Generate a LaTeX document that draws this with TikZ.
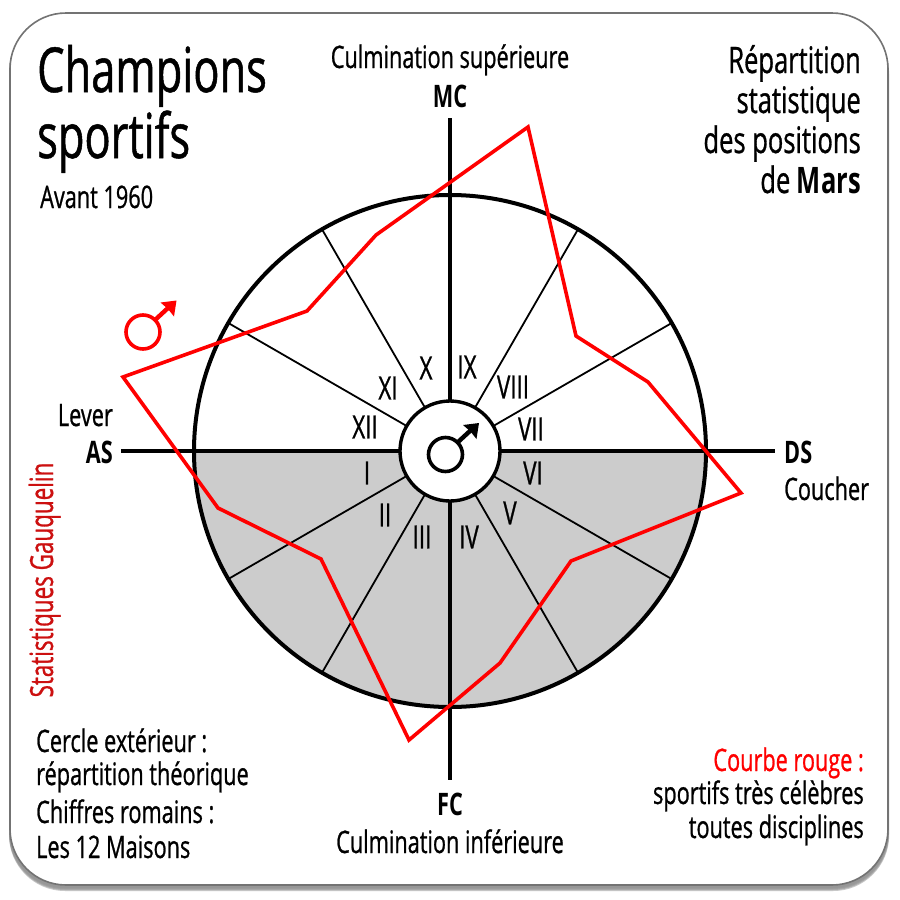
\documentclass[tikz,border=0pt]{standalone}
\usepackage{fontspec}
\setmainfont[FakeStretch=0.70,UprightFeatures={FakeBold=0.8}]{Open Sans}
\usetikzlibrary{arrows.meta,positioning,calc}
\definecolor{marsred}{HTML}{FF0000}
\definecolor{statred}{HTML}{CC1010}
\definecolor{halfgray}{HTML}{CCCCCC}
\tikzset{
    txt/.style={inner sep=0pt,anchor=base west,font=\fontsize{31}{31}\selectfont},
    txtr/.style={txt,anchor=base east},
    txtc/.style={txt,anchor=base},
    head/.style={font=\fontsize{62}{62}\selectfont},
    big/.style={font=\fontsize{36.5}{36.5}\selectfont},
    axisname/.style={font=\fontsize{31}{31}\selectfont\bfseries},
    house/.style={inner sep=0pt,font=\fontsize{32}{32}\selectfont},
    spoke/.style={line width=1.8pt},
    axisline/.style={line width=3.4pt},
    curve/.style={draw=marsred,line width=3.6pt,miter limit=10},
    marssign/.pic={
        \draw[line width=3.6pt,pic actions] (0,0) circle[radius=17pt];
        \draw[line width=4.4pt,pic actions] (12,-12) -- (25,-24);
        \fill[pic actions] (33.5,-31.5) -- (17.5,-29.5) -- (25,-23) -- (31,-15.5) -- cycle;
    }
}
\begin{document}
\begin{tikzpicture}[x=1pt,y=-1pt]
    \fill[white] (0,0) rectangle (900,900);
    \useasboundingbox (0,0) rectangle (900,900);

    % card and its shadow
    \foreach \off/\shade in {6/70,5/60,4/50,3/45,2/40}
        \fill[black!\shade!white,opacity=.3,rounded corners=56pt] (9,13+\off) rectangle (888+\off*.2,885+\off);
    \draw[fill=white,draw=black!55,line width=1.6pt,rounded corners=56pt] (10,13) rectangle (888,885);

    \coordinate (hub) at (450,451);

    % lower half
    \begin{scope}
        \clip (0,451) rectangle (900,900);
        \fill[halfgray] (hub) circle[radius=256pt];
    \end{scope}

    % the 12 houses
    \foreach \ang in {30,60,120,150,210,240,300,330}
        \draw[spoke] ($(hub)+(\ang:51pt)$) -- ($(hub)+(\ang:256pt)$);
    \draw[axisline] (121,451) -- (775,451);
    \draw[axisline] (450,118) -- (450,780);
    \draw[line width=4pt] (hub) circle[radius=256pt];
    \draw[fill=white,line width=3.4pt] (hub) circle[radius=50pt];

    \foreach \num/\px/\py in {I/367/473,II/385/515,III/422/537,IV/469/537,V/510/513,VI/533/473,
                              VII/531/429,VIII/513/387,IX/467/367,X/426/368,XI/388/388,XII/365/427}
        \node[house] (house\num) at (\px,\py) {\num};

    % red curve
    \draw[curve] (528,127) -- (576,336) -- (648,382) -- (741,493) -- (571,561) -- (500,663)
        -- (409,740) -- (321,559) -- (218,508) -- (123,377) -- (307,311) -- (376,235) -- cycle;

    \pic[black] at (445.5,454.5) {marssign};
    \pic[marsred] at (143,332) {marssign};

    % texts
    \node[txt,head] (title) at (37,92) {Champions};
    \node[txt,head] (titleb) at (37,158) {sportifs};
    \node[txt] (avant) at (40,208) {Avant 1960};

    \node[txtr,big] (rep) at (861,73) {Répartition};
    \node[txtr,big] (stat) at (861,113) {statistique};
    \node[txtr,big] (pos) at (861,153) {des positions};
    \node[txtr,big] (mars) at (861,193) {de~\textbf{Mars}};

    \node[txtc] (culsup) at (450,68) {Culmination supérieure};
    \node[txtc,axisname] (MC) at (450,107) {MC};
    \node[txtc,axisname] (FC) at (450,815) {FC};
    \node[txtc] (culinf) at (450,853) {Culmination inférieure};
    \node[txtr] (lever) at (113,426) {Lever};
    \node[txtr,axisname] (AS) at (113,463) {AS};
    \node[txt,axisname] (DS) at (784,463) {DS};
    \node[txt] (coucher) at (784,500) {Coucher};

    \node[txt] (cercle) at (36,752) {Cercle extérieur :};
    \node[txt] (theo) at (36,785) {répartition théorique};
    \node[txt] (chiffres) at (36,823) {Chiffres romains :};
    \node[txt] (maisons) at (36,858) {Les 12 Maisons};

    \node[txtr,text=marsred] (courbe) at (864,771) {Courbe rouge :};
    \node[txtr] (celebres) at (864,804) {sportifs très célèbres};
    \node[txtr] (disc) at (864,838) {toutes disciplines};

    \node[inner sep=0pt,rotate=90,anchor=base,text=statred,font=\fontsize{32}{32}\selectfont] (gauquelin) at (53,580) {Statistiques Gauquelin};
\end{tikzpicture}
\end{document}
